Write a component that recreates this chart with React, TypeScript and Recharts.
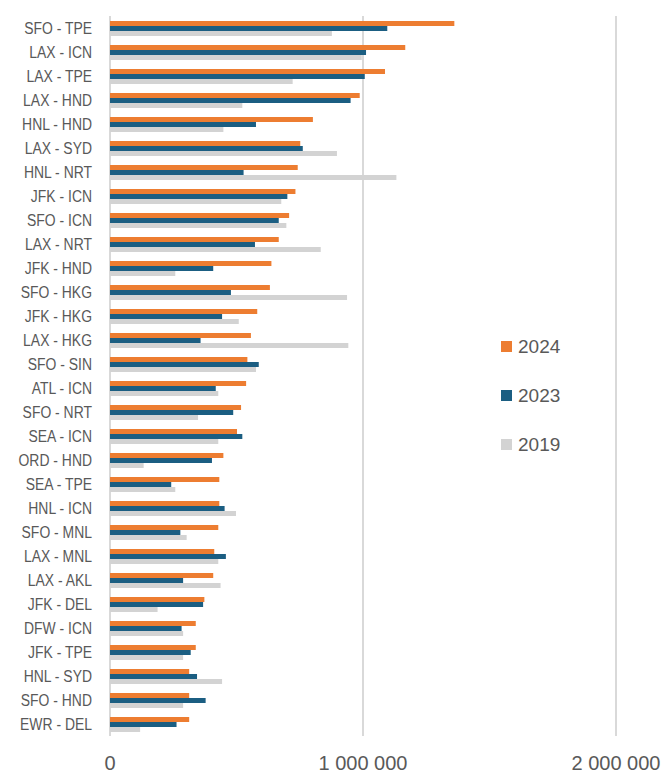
import { Bar, BarChart, CartesianGrid, Legend, XAxis, YAxis } from "recharts";

const routes = [
  "SFO - TPE", "LAX - ICN", "LAX - TPE", "LAX - HND", "HNL - HND", "LAX - SYD",
  "HNL - NRT", "JFK - ICN", "SFO - ICN", "LAX - NRT", "JFK - HND", "SFO - HKG",
  "JFK - HKG", "LAX - HKG", "SFO - SIN", "ATL - ICN", "SFO - NRT", "SEA - ICN",
  "ORD - HND", "SEA - TPE", "HNL - ICN", "SFO - MNL", "LAX - MNL", "LAX - AKL",
  "JFK - DEL", "DFW - ICN", "JFK - TPE", "HNL - SYD", "SFO - HND", "EWR - DEL",
];

const pax2024 = [
  1361000, 1167000, 1087000, 987000, 802000, 752000, 742000, 733000, 708000, 667000,
  638000, 632000, 582000, 557000, 543000, 538000, 518000, 502000, 448000, 432000,
  432000, 428000, 412000, 408000, 373000, 339000, 339000, 313000, 313000, 313000,
];

const pax2023 = [
  1096000, 1012000, 1007000, 951000, 577000, 762000, 528000, 701000, 667000, 573000,
  408000, 478000, 443000, 358000, 588000, 418000, 487000, 523000, 403000, 242000,
  453000, 278000, 458000, 289000, 368000, 283000, 319000, 344000, 378000, 263000,
];

const pax2019 = [
  877000, 995000, 722000, 523000, 448000, 897000, 1132000, 677000, 697000, 833000,
  258000, 937000, 509000, 942000, 577000, 428000, 348000, 428000, 133000, 258000,
  498000, 303000, 428000, 437000, 188000, 289000, 289000, 443000, 289000, 119000,
];

const xTicks = [0, 1000000, 2000000];

const series = [
  { key: "y2024", name: "2024", color: "#ED7D31" },
  { key: "y2023", name: "2023", color: "#1B5E82" },
  { key: "y2019", name: "2019", color: "#D3D3D3" },
];

const data = routes.map((route, i) => ({
  route,
  y2024: pax2024[i],
  y2023: pax2023[i],
  y2019: pax2019[i],
}));

const textColor = "#595959";
const font = "'Liberation Sans', Arial, sans-serif";

// 1000000 -> "1 000 000"
const fmt = (v: number) => String(v).replace(/\B(?=(\d{3})+(?!\d))/g, " ");

function RouteTick({ x, y, payload }: any) {
  return (
    <g transform={`translate(${x - 18},${y}) scale(0.82,1)`}>
      <text textAnchor="end" dy="0.36em" fontSize={17} fill={textColor} fontFamily={font}>
        {payload.value}
      </text>
    </g>
  );
}

function ValueTick({ x, y, payload }: any) {
  return (
    <text x={x} y={y + 34} textAnchor="middle" fontSize={20} fill={textColor} fontFamily={font}>
      {fmt(payload.value)}
    </text>
  );
}

function YearLegend() {
  return (
    <div style={{ fontFamily: font }}>
      {series.map((s) => (
        <div key={s.key} style={{ height: 49, display: "flex", alignItems: "center" }}>
          <span style={{ width: 11, height: 11, background: s.color, marginRight: 6 }} />
          <span style={{ fontSize: 19, color: textColor }}>{s.name}</span>
        </div>
      ))}
    </div>
  );
}

export default function App() {
  return (
    <div style={{ position: "absolute", left: 0, top: 0, width: 662, height: 775, background: "#fff" }}>
      <BarChart
        width={662}
        height={775}
        data={data}
        layout="vertical"
        margin={{ top: 16, right: 46, bottom: 0, left: 0 }}
        barGap={0}
        barSize={5}
      >
        <CartesianGrid horizontal={false} stroke="#D9D9D9" strokeWidth={2} />
        <XAxis
          type="number"
          domain={[0, 2000000]}
          ticks={xTicks}
          axisLine={false}
          tickLine={false}
          tickSize={0}
          tickMargin={0}
          height={39}
          tick={<ValueTick />}
        />
        <YAxis
          type="category"
          dataKey="route"
          width={110}
          axisLine={false}
          tickLine={false}
          tickSize={0}
          tickMargin={0}
          interval={0}
          tick={<RouteTick />}
        />
        <Legend
          layout="horizontal"
          align="center"
          verticalAlign="middle"
          wrapperStyle={{ left: 501, top: 322, width: 100 }}
          content={<YearLegend />}
        />
        {series.map((s) => (
          <Bar key={s.key} dataKey={s.key} name={s.name} fill={s.color} isAnimationActive={false} />
        ))}
      </BarChart>
    </div>
  );
}
